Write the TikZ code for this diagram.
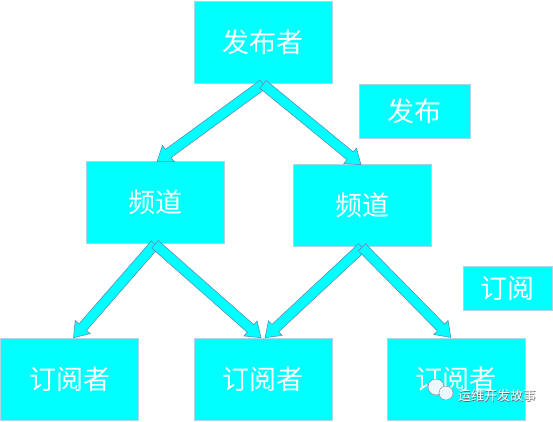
\documentclass[tikz,border=0pt]{standalone}
\usepackage{fontspec}
\newfontfamily\cjk{Noto Sans CJK SC}
\usetikzlibrary{calc}
\definecolor{boxc}{RGB}{0,255,255}
\definecolor{boxline}{RGB}{170,215,225}
\definecolor{arrline}{RGB}{90,130,175}
\newcommand\fatarrow[2]{%
  \draw[arr] let \p1=(#1), \p2=(#2), \n1={atan2(\y2-\y1,\x2-\x1)}, \n2={veclen(\x2-\x1,\y2-\y1)} in
  {[shift={(\p1)}, rotate=\n1] (0pt,-5pt) -- ({\n2-14pt},-5pt) -- ({\n2-14pt},-10pt) -- (\n2,0pt) -- ({\n2-14pt},10pt) -- ({\n2-14pt},5pt) -- (0pt,5pt) -- cycle};}
\begin{document}
\begin{tikzpicture}[x=1pt,y=-1pt,
  box/.style={draw=boxline, fill=boxc, line width=0.6pt, inner sep=0pt, text=white,
    font=\cjk\fontsize{27}{27}\selectfont, minimum width=138pt, minimum height=82pt},
  arr/.style={draw=arrline, fill=boxc, line width=0.5pt, line join=miter}]
\useasboundingbox (0,0) rectangle (553,421);
\node[box] (pub) at (263,42) {发布者};
\node[box, minimum width=111pt, minimum height=54pt] (publabel) at (414.5,111) {发布};
\node[box] (ch1) at (155,202) {频道};
\node[box] (ch2) at (362,205) {频道};
\node[box, minimum width=89pt, minimum height=44pt] (sublabel) at (507.5,288) {订阅};
\node[box] (s1) at (69.5,379) {订阅者};
\node[box] (s2) at (263,379) {订阅者};
\node[box] (s3) at (456,379) {订阅者};
\fatarrow{$(pub.south)+(0,1)$}{$(ch1.north)+(2,1)$}
\fatarrow{$(pub.south)+(0,1)$}{$(ch2.north)+(-1,1)$}
\fatarrow{$(ch1.south)+(0,1)$}{$(s1.north)+(4,0)$}
\fatarrow{$(ch1.south)+(0,1)$}{$(s2.north)+(-2,0)$}
\fatarrow{$(ch2.south)+(0,1)$}{$(s2.north)+(2,0)$}
\fatarrow{$(ch2.south)+(0,1)$}{$(s3.north)+(-5,0)$}
% watermark
\draw[gray, fill=white!92!cyan, line width=0.4pt] (436,387) circle (8pt);
\draw[gray, fill=white!92!cyan, line width=0.4pt] (446,393) circle (7pt);
\node[text=black!60, font=\cjk\fontsize{13}{13}\selectfont, inner sep=0pt] at (497.7,396.7) {运维开发故事};
\node[text=white, font=\cjk\fontsize{13}{13}\selectfont, inner sep=0pt] (wm) at (497,396) {运维开发故事};
\end{tikzpicture}
\end{document}
